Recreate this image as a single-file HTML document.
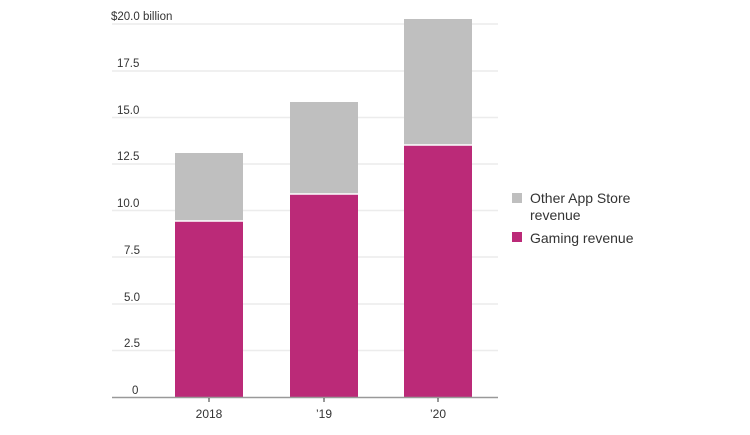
<!DOCTYPE html>
<html><head><style>
body{margin:0;background:#fff;}
svg text{font-family:"Liberation Sans",sans-serif;}
</style></head><body>
<svg width="750" height="430" xmlns="http://www.w3.org/2000/svg">
<g stroke="#ececec" stroke-width="1.5">
<line x1="112" x2="498" y1="24" y2="24"/>
<line x1="112" x2="498" y1="71" y2="71"/>
<line x1="112" x2="498" y1="117.5" y2="117.5"/>
<line x1="112" x2="498" y1="164" y2="164"/>
<line x1="112" x2="498" y1="210.5" y2="210.5"/>
<line x1="112" x2="498" y1="257" y2="257"/>
<line x1="112" x2="498" y1="304" y2="304"/>
<line x1="112" x2="498" y1="350.5" y2="350.5"/>
</g>
<g font-size="11.5" fill="#333">
<text x="111" y="20">$20.0 billion</text>
<text x="117" y="67">17.5</text>
<text x="117" y="114">15.0</text>
<text x="117" y="160">12.5</text>
<text x="117" y="207">10.0</text>
<text x="124" y="254">7.5</text>
<text x="124" y="301">5.0</text>
<text x="124" y="347">2.5</text>
<text x="132" y="394">0</text>
</g>
<g>
<rect x="175" y="153" width="68" height="68" fill="#bfbfbf"/>
<rect x="175" y="221" width="68" height="176" fill="#bb2a78"/>
<rect x="290" y="102" width="68" height="92" fill="#bfbfbf"/>
<rect x="290" y="194" width="68" height="203" fill="#bb2a78"/>
<rect x="404" y="19" width="68" height="126" fill="#bfbfbf"/>
<rect x="404" y="145" width="68" height="252" fill="#bb2a78"/>
</g>
<g stroke="#fff" stroke-width="1.5">
<line x1="175" x2="243" y1="221" y2="221"/>
<line x1="290" x2="358" y1="194" y2="194"/>
<line x1="404" x2="472" y1="145" y2="145"/>
</g>
<line x1="112" x2="498" y1="397.5" y2="397.5" stroke="#999" stroke-width="1.5"/>
<g stroke="#333" stroke-width="1">
<line x1="209" x2="209" y1="398" y2="402"/>
<line x1="324" x2="324" y1="398" y2="402"/>
<line x1="438" x2="438" y1="398" y2="402"/>
</g>
<g font-size="12" fill="#333" text-anchor="middle">
<text x="209" y="418">2018</text>
<text x="324" y="418">’19</text>
<text x="438" y="418">’20</text>
</g>
<rect x="512" y="193" width="10" height="10" fill="#bfbfbf"/>
<rect x="512" y="232" width="10" height="10" fill="#bb2a78"/>
<g font-size="14" fill="#333">
<text x="530" y="203">Other App Store</text>
<text x="530" y="220">revenue</text>
<text x="530" y="243">Gaming revenue</text>
</g>
</svg>
</body></html>
